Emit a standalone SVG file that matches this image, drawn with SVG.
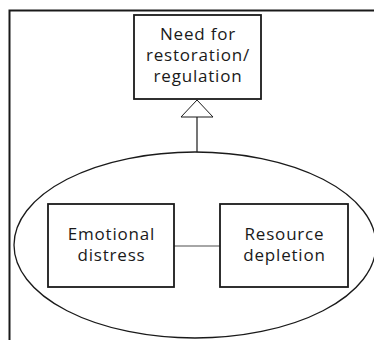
<svg xmlns="http://www.w3.org/2000/svg" width="374" height="340" viewBox="0 0 374 340">
<style>
.box{fill:#fff;stroke:#1a1a1a;stroke-width:1.8}
.t{font-family:"Open Sans","Noto Sans",sans-serif;font-size:17px;letter-spacing:0.8px;fill:#1a1a1a;text-anchor:middle}
.ln{stroke:#1a1a1a;stroke-width:1.2;fill:none}
</style>
<rect width="374" height="340" fill="#fff"/>
<path d="M9.5,340 V10.5 H374" fill="none" stroke="#1a1a1a" stroke-width="2"/>
<g id="connectors">
<line class="ln" x1="197" y1="117" x2="197" y2="152"/>
<polygon points="197,100 181,117 213,117" fill="#fff" stroke="#1a1a1a" stroke-width="1"/>
<line x1="174" y1="246" x2="220" y2="246" stroke="#888" stroke-width="1.5"/>
</g>
<g id="group-ellipse">
<ellipse cx="195" cy="245" rx="181" ry="93" fill="none" stroke="#1a1a1a" stroke-width="1.3"/>
</g>
<g id="need">
<rect class="box" x="134" y="15" width="127" height="84"/>
<text class="t" x="198" y="40">Need for</text>
<text class="t" x="198" y="61">restoration/</text>
<text class="t" x="198" y="82">regulation</text>
</g>
<g id="emotional">
<rect class="box" x="48" y="204" width="126" height="83"/>
<text class="t" x="111.5" y="240">Emotional</text>
<text class="t" x="111.5" y="261">distress</text>
</g>
<g id="resource">
<rect class="box" x="220" y="204" width="128" height="83"/>
<text class="t" x="284.5" y="240">Resource</text>
<text class="t" x="284.5" y="261">depletion</text>
</g>
</svg>
